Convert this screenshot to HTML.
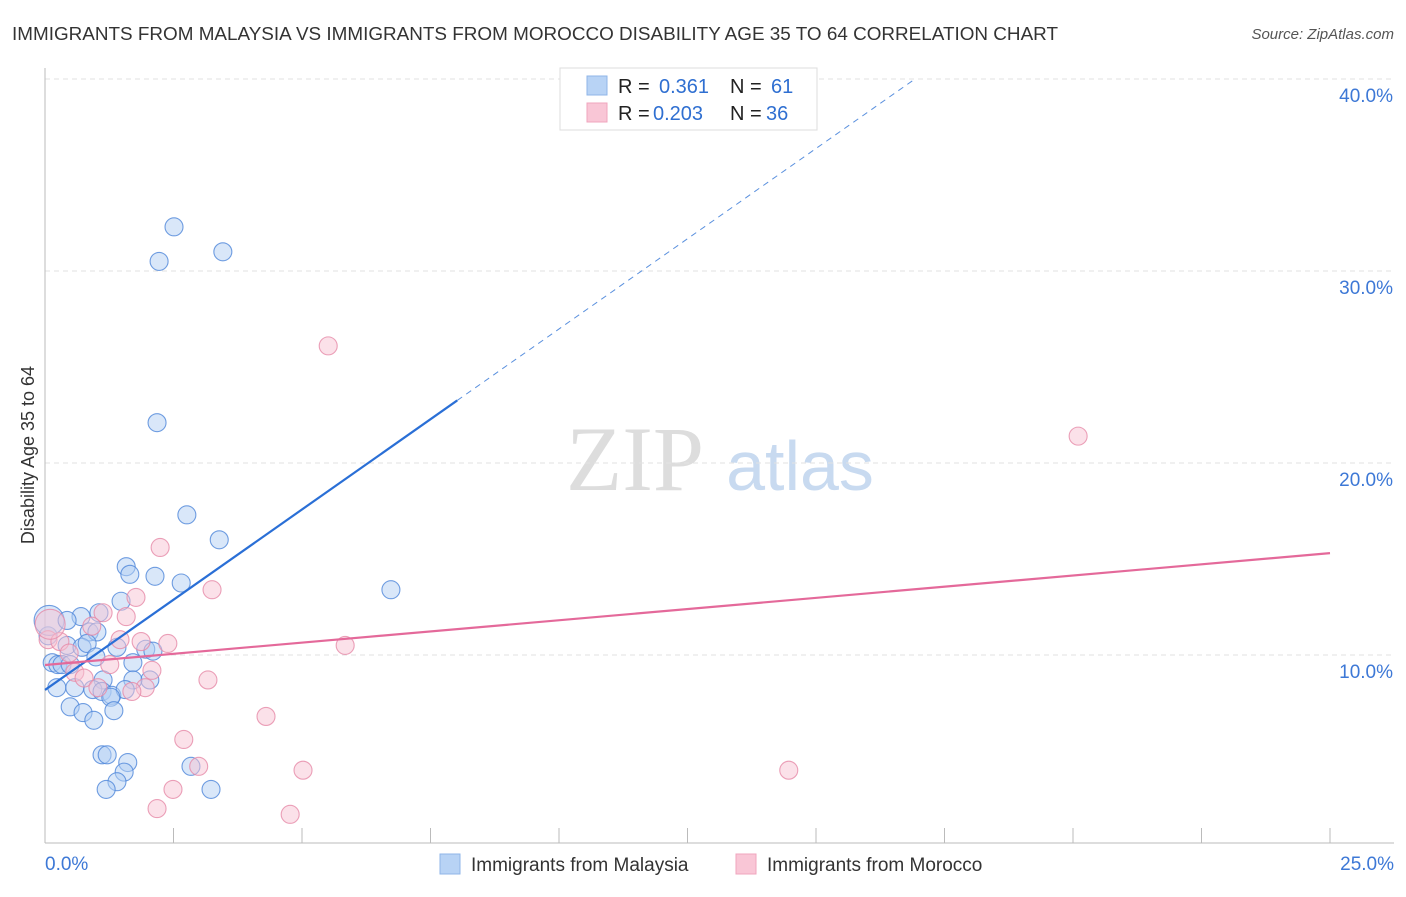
<!DOCTYPE html>
<html><head><meta charset="utf-8"><style>
body{margin:0;background:#fff;font-family:"Liberation Sans",sans-serif;}
</style></head><body>
<svg id="chart" width="1406" height="892" xmlns="http://www.w3.org/2000/svg">
<text x="12" y="40" font-size="18" fill="#333" textLength="1046" lengthAdjust="spacingAndGlyphs">IMMIGRANTS FROM MALAYSIA VS IMMIGRANTS FROM MOROCCO DISABILITY AGE 35 TO 64 CORRELATION CHART</text>
<text x="1394" y="39" font-size="15" fill="#555" font-style="italic" text-anchor="end">Source: ZipAtlas.com</text>
<text x="34" y="455" font-size="18" fill="#333" text-anchor="middle" transform="rotate(-90 34 455)">Disability Age 35 to 64</text>
<g><text x="635" y="490" font-size="92" fill="#ddd" font-family="Liberation Serif,serif" text-anchor="middle">ZIP</text><text x="800" y="490" font-size="70" fill="#c8daf0" text-anchor="middle">atlas</text></g>
<g id="grid"></g><g id="marks"></g>
<g>
<rect x="560" y="68" width="257" height="62" fill="#fff" stroke="#ddd"/>
<rect x="587" y="76" width="20" height="19" fill="#b8d3f5" stroke="#8fb6e8"/>
<rect x="587" y="103" width="20" height="19" fill="#f9c6d6" stroke="#f0a5be"/>
<text x="618" y="93" font-size="20" fill="#222">R =</text><text x="659" y="93" font-size="20" fill="#2f6fd1">0.361</text>
<text x="730" y="93" font-size="20" fill="#222">N =</text><text x="771" y="93" font-size="20" fill="#2f6fd1">61</text>
<text x="618" y="120" font-size="20" fill="#222">R =</text><text x="653" y="120" font-size="20" fill="#2f6fd1">0.203</text>
<text x="730" y="120" font-size="20" fill="#222">N =</text><text x="766" y="120" font-size="20" fill="#2f6fd1">36</text>
</g>
<g>
<rect x="440" y="854" width="20" height="20" fill="#b8d3f5" stroke="#8fb6e8"/>
<text x="471" y="871" font-size="19" fill="#333">Immigrants from Malaysia</text>
<rect x="736" y="854" width="20" height="20" fill="#f9c6d6" stroke="#f0a5be"/>
<text x="767" y="871" font-size="19" fill="#333">Immigrants from Morocco</text>
</g>
</svg>
<script>
const xTicks=[0,2.5,5,7.5,10,12.5,15,17.5,20,22.5,25];
const yTicks=[10,20,30,40];
const yTickLabels=["10.0%","20.0%","30.0%","40.0%"];
const xEndLabels=["0.0%","25.0%"];
const malaysiaX=[2.51,2.22,3.46,2.18,2.76,3.39,6.73,1.58,1.65,2.14,2.65,1.48,1.05,0.70,0.86,1.01,0.06,0.43,0.72,0.82,1.40,1.96,2.10,0.99,0.14,0.25,0.33,0.49,1.71,1.13,2.04,1.71,0.23,0.58,0.93,1.11,1.30,1.56,1.28,0.49,0.74,1.34,0.95,1.11,1.21,1.61,1.54,1.40,1.19,2.84,3.23,0.08,0.43];
const malaysiaY=[32.3,30.5,31.0,22.1,17.3,16.0,13.4,14.6,14.2,14.1,13.75,12.8,12.2,12.0,11.2,11.2,11.0,10.5,10.4,10.6,10.4,10.3,10.2,9.9,9.6,9.5,9.5,9.5,9.6,8.7,8.7,8.7,8.3,8.3,8.2,8.1,7.9,8.2,7.8,7.3,7.0,7.1,6.6,4.8,4.8,4.4,3.9,3.4,3.0,4.2,3.0,11.8,11.8];
const moroccoX=[5.51,20.1,2.24,3.25,1.77,1.13,1.58,0.91,1.46,1.87,2.39,5.84,0.06,0.29,0.47,1.26,2.08,0.58,0.76,1.03,1.95,1.69,3.17,4.30,2.70,2.99,5.02,14.47,2.49,2.18,4.77,0.10];
const moroccoY=[26.1,21.4,15.6,13.4,13.0,12.2,12.0,11.5,10.8,10.7,10.6,10.5,10.8,10.7,10.1,9.5,9.2,9.1,8.8,8.3,8.3,8.1,8.7,6.8,5.6,4.2,4.0,4.0,3.0,2.0,1.7,11.6];
const bigIdxMalaysia=[51];const bigIdxMorocco=[31];
const malaysiaTrend=[8.18,1.88];const moroccoTrend=[9.48,0.233];
const X=v=>45+v/25*1285, Y=v=>847-v*19.2;
const NS="http://www.w3.org/2000/svg";
function mk(tag,attrs,parent){const e=document.createElementNS(NS,tag);for(const k in attrs)e.setAttribute(k,attrs[k]);parent.appendChild(e);return e;}
const grid=document.getElementById('grid'),marks=document.getElementById('marks');
yTicks.forEach((t,i)=>{
 const l=mk('line',{x1:45,x2:1394,y1:Y(t),y2:Y(t),stroke:'#e2e2e2','stroke-dasharray':'5,4'},grid);
 
 
 const tx=mk('text',{x:1393,y:Y(t)+23,'font-size':19,fill:'#3d78d6','text-anchor':'end'},grid);tx.textContent=yTickLabels[i];
 
 
});
const ax=mk('line',{x1:45,x2:45,y1:68,y2:843,stroke:'#bbb'},grid);


const bx=mk('line',{x1:45,x2:1394,y1:843,y2:843,stroke:'#bbb'},grid);


xTicks.forEach(t=>{const l=mk('line',{x1:X(t),x2:X(t),y1:828,y2:843,stroke:'#bbb'},grid);
 
 });
[[0,'start',45],[25,'end',1394]].forEach((a,i)=>{const tx=mk('text',{x:a[2],y:870,'font-size':19,fill:'#3d78d6','text-anchor':a[1]},grid);tx.textContent=xEndLabels[i];
 
 });
function pts(xs,ys,big,fill,stroke,name){xs.forEach((x,i)=>{const c=mk('circle',{cx:X(x),cy:Y(ys[i]),r:big.includes(i)?15:9,fill:fill,'fill-opacity':0.5,stroke:stroke,'stroke-opacity':0.8,'stroke-width':1.1},marks);
 
 });}
pts(malaysiaX,malaysiaY,bigIdxMalaysia,'#b3cff3','#4d86d9','point-malaysia');
pts(moroccoX,moroccoY,bigIdxMorocco,'#f8c3d3','#e68aa8','point-morocco');
const xEndSolid=8.02;
const t1=mk('line',{x1:X(0),y1:Y(malaysiaTrend[0]),x2:X(xEndSolid),y2:Y(malaysiaTrend[0]+malaysiaTrend[1]*xEndSolid),stroke:'#2a6fd6','stroke-width':2.2},marks);


const xEndDash=(40-malaysiaTrend[0])/malaysiaTrend[1];
const t2=mk('line',{x1:X(xEndSolid),y1:Y(malaysiaTrend[0]+malaysiaTrend[1]*xEndSolid),x2:X(xEndDash),y2:Y(40),stroke:'#5a90de','stroke-width':1,'stroke-dasharray':'6,5'},marks);


const t3=mk('line',{x1:X(0),y1:Y(moroccoTrend[0]),x2:X(25),y2:Y(moroccoTrend[0]+moroccoTrend[1]*25),stroke:'#e4699a','stroke-width':2.2},marks);


</script>
</body></html>
